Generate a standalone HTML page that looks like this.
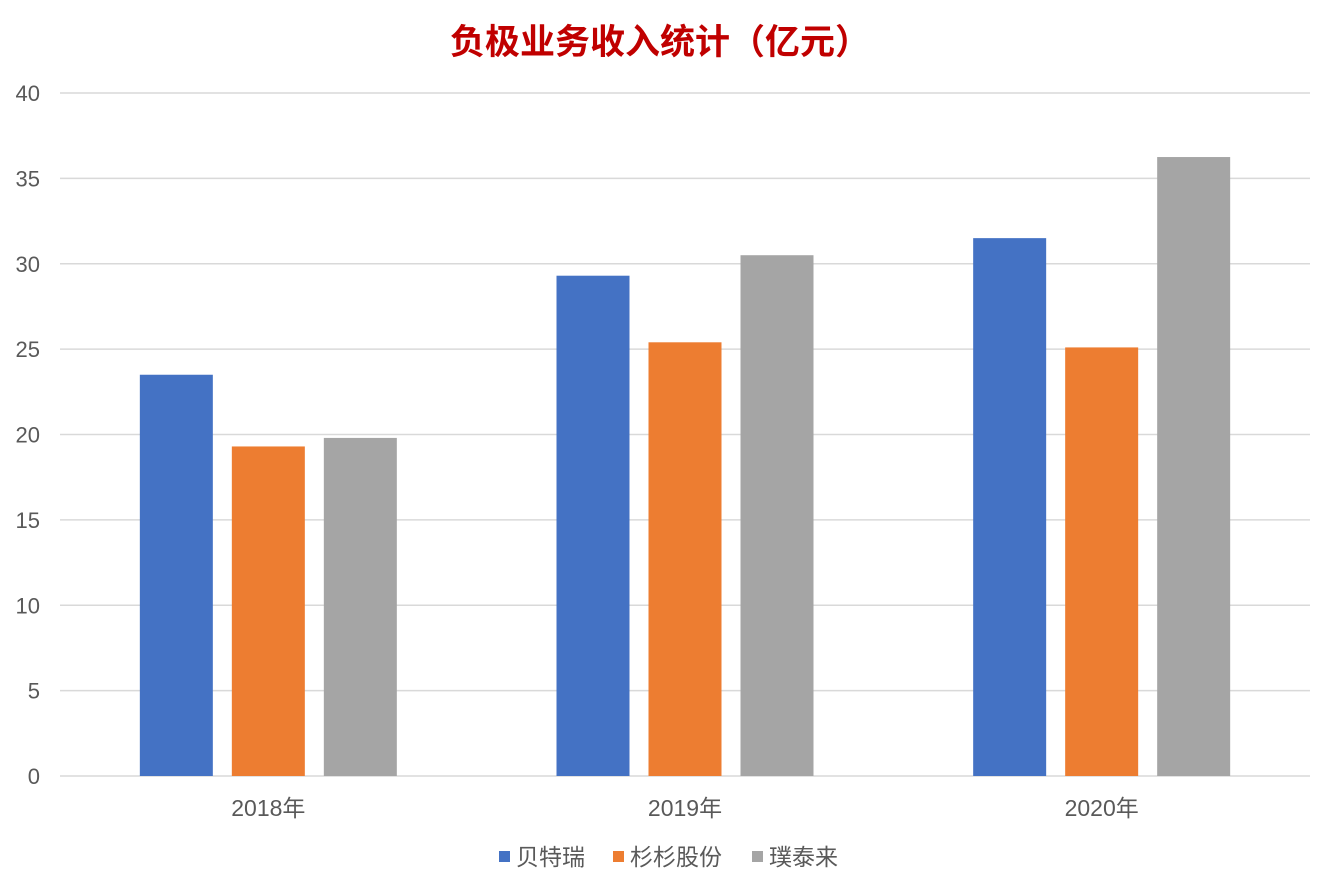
<!DOCTYPE html>
<html><head><meta charset="utf-8">
<style>
html,body{margin:0;padding:0;background:#fff;}
body{width:1334px;height:889px;overflow:hidden;font-family:"Liberation Sans","Noto Sans CJK SC",sans-serif;}
</style></head>
<body>
<svg id="chart" width="1334" height="889" xmlns="http://www.w3.org/2000/svg" font-family="Liberation Sans, Noto Sans CJK SC, sans-serif">
<text x="660" y="54" text-anchor="middle" font-size="35" font-weight="bold" fill="#c00000">负极业务收入统计（亿元）</text>
<g id="grid"></g><g id="bars"></g><g id="labels"></g>
<g font-size="23" fill="#595959">
<rect x="499" y="851" width="11" height="11" fill="#4472c4"/>
<text x="516" y="865">贝特瑞</text>
<rect x="613" y="851" width="11" height="11" fill="#ed7d31"/>
<text x="630" y="865">杉杉股份</text>
<rect x="752" y="851" width="11" height="11" fill="#a5a5a5"/>
<text x="769" y="865">璞泰来</text>
</g>
</svg>
<script>
const categories = ["2018年","2019年","2020年"];
const seriesNames = ["贝特瑞","杉杉股份","璞泰来"];
const btr = [23.5, 29.3, 31.5];
const shanshan = [19.3, 25.4, 25.1];
const putailai = [19.8, 30.5, 36.25];
const yTicks = [0,5,10,15,20,25,30,35,40];

const NS="http://www.w3.org/2000/svg";
const x0=60,x1=1310,y0=776,yTop=93,yMax=40;
const colors=["#4472c4","#ed7d31","#a5a5a5"];
const series=[btr,shanshan,putailai];
const slugs=["btr","shanshan","putailai"];
function yScale(v){return y0-(v/yMax)*(y0-yTop);}
const bandW=(x1-x0)/categories.length;
function xCenter(i){return x0+bandW*(i+0.5);}
function mk(tag,attrs,parent){const e=document.createElementNS(NS,tag);for(const k in attrs)e.setAttribute(k,attrs[k]);parent.appendChild(e);return e;}
const grid=document.getElementById('grid'),bars=document.getElementById('bars'),labels=document.getElementById('labels');
yTicks.forEach(t=>{
  const y=yScale(t);
  const l=mk('line',{x1:x0,x2:x1,y1:y,y2:y,stroke:'#d9d9d9','stroke-width':1.5},grid);
  
  
  const tx=mk('text',{x:40,y:y+8,'text-anchor':'end','font-size':22,fill:'#595959'},labels);
  tx.textContent=t;
  
  
});
const bw=73,step=92;
categories.forEach((c,i)=>{
  series.forEach((s,j)=>{
    const cx=xCenter(i)+(j-1)*step;
    const r=mk('rect',{x:cx-bw/2,y:yScale(s[i]),width:bw,height:y0-yScale(s[i]),fill:colors[j]},bars);
    
    
  });
  const tx=mk('text',{x:xCenter(i),y:816,'text-anchor':'middle','font-size':23,fill:'#595959'},labels);
  tx.textContent=c;
  
  
});
</script>
</body></html>
